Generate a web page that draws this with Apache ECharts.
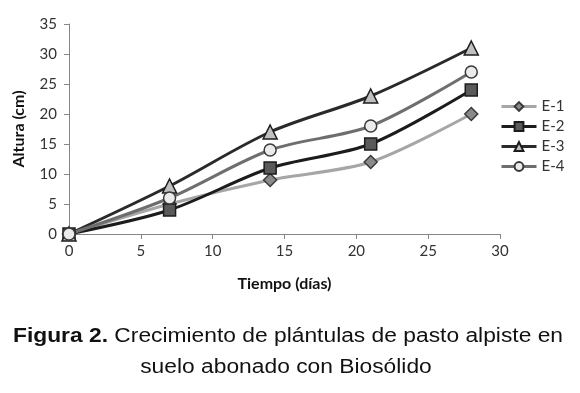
<!DOCTYPE html>
<html>
<head>
<meta charset="utf-8">
<script src="https://cdn.jsdelivr.net/npm/echarts@6/dist/echarts.min.js"></script>
<style>
  html, body { margin: 0; padding: 0; background: #fff; }
  #chart { width: 580px; height: 393px; }
</style>
</head>
<body>
<div id="chart"></div>
<script>
// datos
var dias = [0, 7, 14, 21, 28];
var e1 = [0, 5, 9, 12, 20];
var e2 = [0, 4, 11, 15, 24];
var e3 = [0, 8, 17, 23, 31];
var e4 = [0, 6, 14, 18, 27];
var nombres = ["E-1", "E-2", "E-3", "E-4"];

function pares(ys) {
  return dias.map(function (d, i) { return [d, ys[i]]; });
}

var chart = echarts.init(document.getElementById("chart"));
var fuente = "Lato";

function serie(nombre, ys, linea, simbolo, tam, relleno, borde) {
  return {
    name: nombre,
    type: "line",
    data: pares(ys),
    smooth: 0.3,
    symbol: simbolo,
    symbolSize: tam,
    showAllSymbol: true,
    lineStyle: { color: linea, width: 3 },
    itemStyle: { color: relleno, borderColor: borde, borderWidth: 1.5 },
    emphasis: { disabled: true },
  };
}

var option = {
  animation: false,
  grid: { left: 69, right: 80, top: 24, bottom: 159 },
  legend: {
    orient: "vertical",
    left: 495,
    top: 94,
    itemWidth: 35,
    itemHeight: 11,
    itemGap: 5,
    data: nombres,
    lineStyle: { width: 3 },
    textStyle: { fontFamily: fuente, fontSize: 15, color: "#333" },
  },
  xAxis: {
    type: "value",
    min: 0,
    max: 30,
    interval: 5,
    name: "Tiempo (días)",
    nameLocation: "middle",
    nameGap: 42,
    nameTextStyle: { fontFamily: fuente, fontSize: 16, fontWeight: "bold", color: "#111" },
    axisLine: { show: true, lineStyle: { color: "#868686", width: 1 } },
    axisTick: { show: true, length: 5, lineStyle: { color: "#868686" } },
    axisLabel: { fontFamily: fuente, fontSize: 15, color: "#333", margin: 10 },
    splitLine: { show: false },
  },
  yAxis: {
    type: "value",
    min: 0,
    max: 35,
    interval: 5,
    name: "Altura (cm)",
    nameLocation: "middle",
    nameGap: 42,
    nameTextStyle: { fontFamily: fuente, fontSize: 16, fontWeight: "bold", color: "#111" },
    axisLine: { show: true, lineStyle: { color: "#868686", width: 1 } },
    axisTick: { show: true, length: 5, lineStyle: { color: "#868686" } },
    axisLabel: { fontFamily: fuente, fontSize: 15, color: "#333", margin: 12 },
    splitLine: { show: false },
  },
  series: [
    serie(nombres[0], e1, "#a6a6a6", "diamond", 13, "#8a8a8a", "#3a3a3a"),
    serie(nombres[1], e2, "#1c1c1c", "rect", 12, "#5a5a5a", "#1c1c1c"),
    serie(nombres[2], e3, "#2a2a2a", "triangle", 14, "#c0c0c0", "#1c1c1c"),
    serie(nombres[3], e4, "#6e6e6e", "circle", 12, "#ebebeb", "#3a3a3a"),
  ],
  graphic: [
    {
      type: "text",
      x: 288,
      y: 326,
      scaleX: 1.14,
      style: {
        text: "{b|Figura 2.} Crecimiento de plántulas de pasto alpiste en",
        font: "20px 'Liberation Sans'",
        textAlign: "center",
        fill: "#111",
        rich: {
          b: { fontWeight: "bold", fontSize: 20, fontFamily: "Liberation Sans", fill: "#111" },
        },
      },
    },
    {
      type: "text",
      x: 286,
      y: 357,
      scaleX: 1.14,
      style: {
        text: "suelo abonado con Biosólido",
        font: "20px 'Liberation Sans'",
        textAlign: "center",
        fill: "#111",
      },
    },
  ],
};

chart.setOption(option);
</script>
</body>
</html>
